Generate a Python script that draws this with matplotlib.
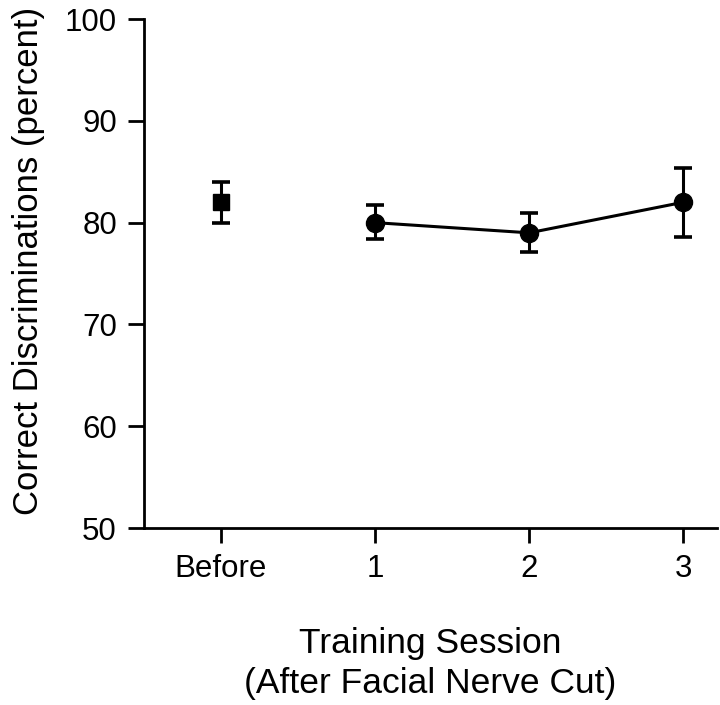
import matplotlib
matplotlib.use("Agg")
import matplotlib.pyplot as plt

categories = ["Before", "1", "2", "3"]
before_value = [82.0]
before_low = [80.0]
before_high = [84.0]
session_values = [80.0, 79.0, 82.0]
session_low = [78.4, 77.1, 78.6]
session_high = [81.7, 80.9, 85.4]
yticks = [50, 60, 70, 80, 90, 100]

plt.rcParams['font.family'] = ['Liberation Sans', 'DejaVu Sans']

fig = plt.figure(figsize=(7.2, 7.05), dpi=100)
ax = fig.add_axes([0.2, 0.251, 0.796, 0.722])

xb = [0]
xs = [1, 2, 3]
ax.errorbar(xb, before_value,
            yerr=[[v - l for v, l in zip(before_value, before_low)],
                  [h - v for v, h in zip(before_value, before_high)]],
            fmt='s', color='black', markersize=11.5, capsize=6.5, elinewidth=2.2,
            capthick=2.6)
ax.errorbar(xs, session_values,
            yerr=[[v - l for v, l in zip(session_values, session_low)],
                  [h - v for v, h in zip(session_values, session_high)]],
            fmt='o-', color='black', markersize=13, capsize=6.5, elinewidth=2.2,
            capthick=2.6, linewidth=2.2)

ax.set_xlim(-0.5, 3.22)
ax.set_ylim(50, 100)
ax.set_yticks(yticks)
ax.set_xticks(range(len(categories)))
ax.set_xticklabels(categories)

for s in ['top', 'right']:
    ax.spines[s].set_visible(False)
for s in ['left', 'bottom']:
    ax.spines[s].set_linewidth(2)

ax.tick_params(axis='y', direction='out', length=11.5, width=2, labelsize=22.5, pad=8)
ax.tick_params(axis='x', direction='out', length=11, width=2, labelsize=22.5, pad=8)

ax.set_ylabel("Correct Discriminations (percent)", fontsize=25)
ax.yaxis.set_label_coords(-0.172, 0.525)
ax.set_xlabel("Training Session\n(After Facial Nerve Cut)", fontsize=25.5, labelpad=31,
              linespacing=1.25)

fig.savefig("out.png", dpi=100)
